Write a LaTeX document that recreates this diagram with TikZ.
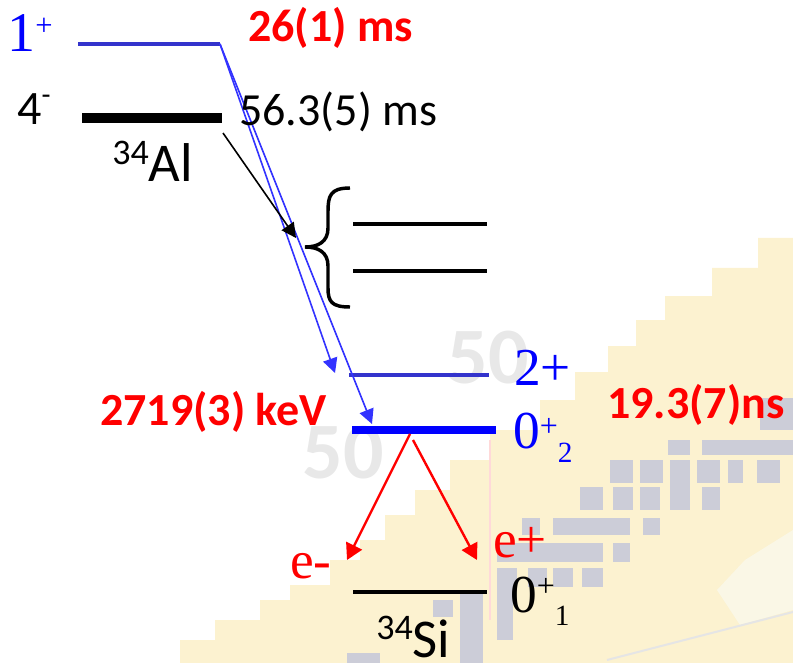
\documentclass[tikz,border=0pt]{standalone}
\usepackage{fontspec}
\setmainfont{Carlito}
\newfontfamily\tnr{Liberation Serif}
\usetikzlibrary{arrows.meta}

\definecolor{lvlblue}{RGB}{51,51,204}
\definecolor{arrblue}{RGB}{51,51,255}
\definecolor{chartyel}{RGB}{252,242,208}
\definecolor{chartgry}{RGB}{204,205,216}
\definecolor{chartlgt}{RGB}{250,247,230}

\begin{document}
\begin{tikzpicture}[x=0.75pt, y=-0.75pt,
    level/.style={line width=3.3pt},
    trans/.style={-{Triangle[length=11pt,width=11pt]}, line width=1.2pt},
    decay/.style={-{Triangle[length=12pt,width=13pt]}, line width=1.8pt, red},
    calib/.style={inner sep=0pt, anchor=base west, font=\fontsize{34.5}{40}\selectfont},
    hl/.style={calib, font=\fontsize{34.5}{40}\selectfont\bfseries, text=red},
    tms/.style={inner sep=0pt, anchor=base west, font=\tnr\fontsize{40}{44}\selectfont},
    nucl/.style={inner sep=0pt, anchor=base west, font=\fontsize{41}{46}\selectfont},
    chart/.style={fill=chartgry},
    magic/.style={font=\fontsize{60}{60}\selectfont\bfseries, text=black!9}
]
\useasboundingbox (0,0) rectangle (793,663);

% faded nuclide chart behind
\fill[chartyel] (793,238) -- (758,238) -- (758,268) -- (712,268) -- (712,296) -- (665,296)
    -- (665,320) -- (636,320) -- (636,346) -- (608,346) -- (608,372) -- (575,372) -- (575,400)
    -- (540,400) -- (540,430) -- (490,430) -- (490,460) -- (450,460) -- (450,490) -- (415,490)
    -- (415,515) -- (385,515) -- (385,540) -- (360,540) -- (360,560) -- (330,560) -- (330,585)
    -- (290,585) -- (290,600) -- (260,600) -- (260,620) -- (215,620) -- (215,640) -- (180,640)
    -- (180,663) -- (793,663) -- cycle;
\fill[chartlgt] (717,590) -- (745,560) -- (793,530) -- (793,610) -- (740,625) -- cycle;
\draw[black!10, line width=1.5pt] (607,660) -- (793,612);
\draw[red!15, line width=1pt] (490,440) -- (490,620);
\fill[chart] (760,398) rectangle (793,430);
\fill[chart] (668,440) rectangle (690,455);
\fill[chart] (702,440) rectangle (793,455);
\foreach \xa/\xb in {610/633, 640/663, 697/720, 728/743, 757/780}
  \fill[chart] (\xa,460) rectangle (\xb,483);
\fill[chart] (670,460) rectangle (690,510);
\foreach \xa/\xb in {580/603, 613/633, 640/660, 702/720}
  \fill[chart] (\xa,487) rectangle (\xb,510);
\foreach \xa/\xb in {522/540, 553/630, 643/660}
  \fill[chart] (\xa,518) rectangle (\xb,535);
\fill[chart] (497,543) rectangle (603,562);
\fill[chart] (613,543) rectangle (630,562);
\foreach \xa/\xb in {497/517, 528/547, 553/573, 582/603}
  \fill[chart] (\xa,568) rectangle (\xb,587);
\fill[chart] (497,587) rectangle (513,640);
\fill[chart] (433,600) rectangle (453,617);
\fill[chart] (460,593) rectangle (483,663);
\fill[chart] (347,653) rectangle (380,663);
\node[magic] (m1) at (488,358) {50};
\node[magic] (m2) at (343,453) {50};

% levels
\coordinate (oneL) at (78,44);   \coordinate (oneR) at (220,44);
\coordinate (fourL) at (82,118); \coordinate (fourR) at (222,118);
\coordinate (hiAL) at (353,224); \coordinate (hiAR) at (487,224);
\coordinate (hiBL) at (353,271); \coordinate (hiBR) at (487,271);
\coordinate (twoL) at (349,375); \coordinate (twoR) at (489,375);
\coordinate (zeroL) at (352,430); \coordinate (zeroR) at (496,430);
\coordinate (gsL) at (353,592);  \coordinate (gsR) at (487,592);

\draw[level, lvlblue] (oneL) -- (oneR);
\draw[level, line width=7pt] (fourL) -- (fourR);
\draw[level, line width=2.8pt] (hiAL) -- (hiAR);
\draw[level, line width=2.8pt] (hiBL) -- (hiBR);
\draw[level, lvlblue, line width=2.4pt] (twoL) -- (twoR);
\draw[level, blue, line width=5.5pt] (zeroL) -- (zeroR);
\draw[level] (gsL) -- (gsR);

% brace over the high levels
\draw[line width=2.6pt] (350,188) .. controls (330,188) and (328,196) .. (328,212) -- (328,228)
    .. controls (328,242) and (318,247) .. (305,247)
    .. controls (318,247) and (328,252) .. (328,266) -- (328,288)
    .. controls (328,302) and (332,307) .. (350,307);

% transitions
\coordinate (alOut) at (223,133);
\coordinate (brTip) at (296,238);
\coordinate (twoTip) at (335,373);
\coordinate (zeroTip) at (372,424);
\coordinate (zOutA) at (410,434);
\coordinate (zOutB) at (413,440);
\coordinate (emTip) at (347,560);
\coordinate (epTip) at (477,560);

\draw[trans, arrblue] (oneR) -- (twoTip);
\draw[trans, arrblue] (oneR) -- (zeroTip);
\draw[trans] (alOut) -- (brTip);
\draw[decay] (zOutA) -- (emTip);
\draw[decay] (zOutB) -- (epTip);

% labels
\node[tms, text=blue, font=\tnr\fontsize{42}{46}\selectfont] (jp1) at (7,52) {1\raisebox{12pt}{\fontsize{23}{23}\selectfont +}};
\node[calib, font=\fontsize{36}{40}\selectfont] (jp4) at (17,125) {4\raisebox{15pt}{\fontsize{22}{22}\selectfont -}};
\node[hl] (hl1) at (248,42) {26(1) ms};
\node[calib] (hl4) at (239,126) {56.3(5) ms};
\node[nucl] (al) at (112,182) {\raisebox{13pt}{\fontsize{27}{27}\selectfont 34}Al};
\node[tms, text=blue] (jp2) at (514,385) {2+};
\node[tms, text=blue] (jp0) at (513,448) {0\raisebox{9pt}{\fontsize{24}{24}\selectfont +}\raisebox{-11pt}{\fontsize{22}{22}\selectfont 2}};
\node[hl] (ex) at (100,425) {2719(3) keV};
\node[hl] (tau) at (607,418) {19.3(7)ns};
\node[tms, text=red] (em) at (290,578) {e-};
\node[tms, text=red] (ep) at (493,557) {e+};
\node[tms] (jpg) at (510,612) {0\raisebox{12pt}{\fontsize{24}{24}\selectfont +}\raisebox{-10pt}{\fontsize{22}{22}\selectfont 1}};
\node[nucl] (si) at (376,657) {\raisebox{13pt}{\fontsize{27}{27}\selectfont 34}Si};
\end{tikzpicture}
\end{document}
